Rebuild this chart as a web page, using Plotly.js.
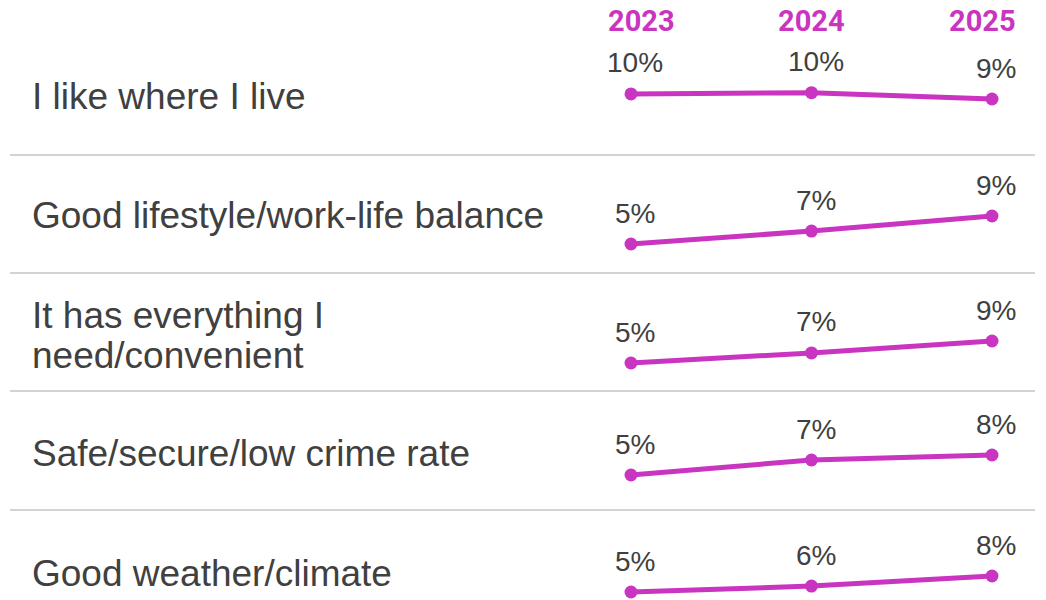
<!DOCTYPE html>
<html>
<head>
<meta charset="utf-8">
<script src="https://cdn.plot.ly/plotly-3.0.1.min.js"></script>
<style>
  html, body { margin: 0; padding: 0; background: #ffffff; }
  #chart { width: 1046px; height: 600px; }
</style>
</head>
<body>
<div id="chart"></div>
<script>
// ---- data ----
const years = [2023, 2024, 2025];
const categories = [
  "I like where I live",
  "Good lifestyle/work-life balance",
  "It has everything I\nneed/convenient",
  "Safe/secure/low crime rate",
  "Good weather/climate"
];
const likeWhereILive   = [10.0, 10.2, 9.2];
const goodLifestyle    = [5.2, 7.0, 9.1];
const hasEverything    = [5.3, 6.9, 8.8];
const safeSecure       = [5.2, 7.3, 8.0];
const goodWeather      = [5.2, 6.2, 7.9];
const seriesValues = [likeWhereILive, goodLifestyle, hasEverything, safeSecure, goodWeather];

// ---- layout geometry (pixels) ----
const W = 1046, H = 600;
const MAGENTA = "#C935C0";
const TEXT = "#404040";
const rowPlotPx = [[92.7, 99], [216, 244], [341, 363], [455, 475], [576, 592]]; // [top, bottom] of data span in each mini plot
const PADPX = 7; // extra room so lines aren't clipped
const rowLabelPx = [97, 215, [315, 355], 453, 573];
const separatorsPx = [155, 273, 391, 510];
const fy = px => 1 - px / H;
const fx = px => px / W;

const traces = [];
const layout = {
  width: W, height: H,
  margin: {l: 0, r: 0, t: 0, b: 0},
  paper_bgcolor: "#ffffff",
  plot_bgcolor: "rgba(0,0,0,0)",
  showlegend: false,
  font: {family: "Liberation Sans, Arial, sans-serif", color: TEXT},
  xaxis: {
    domain: [fx(631 - 20), fx(992 + 20)],
    range: [years[0] - 20 * 2 / 361, years[years.length - 1] + 20 * 2 / 361],
    visible: false, fixedrange: true
  },
  annotations: [],
  shapes: []
};

seriesValues.forEach((vals, i) => {
  const ax = i === 0 ? "y" : "y" + (i + 1);
  const axKey = i === 0 ? "yaxis" : "yaxis" + (i + 1);
  const lo = Math.min(...vals), hi = Math.max(...vals);
  const top = rowPlotPx[i][0], bot = rowPlotPx[i][1];
  const per = (hi - lo) / (bot - top);
  const topPx = Math.max(0, top - PADPX), botPx = Math.min(H, bot + PADPX);
  layout[axKey] = {
    domain: [fy(botPx), fy(topPx)],
    range: [lo - (botPx - bot) * per, hi + (top - topPx) * per],
    visible: false, fixedrange: true
  };
  traces.push({
    type: "scatter",
    mode: "lines+markers",
    x: years, y: vals,
    xaxis: "x", yaxis: ax,
    cliponaxis: false,
    line: {color: MAGENTA, width: 5},
    marker: {color: MAGENTA, size: 13},
    hoverinfo: "skip"
  });
  vals.forEach((v, j) => {
    layout.annotations.push({
      xref: "x", yref: ax,
      x: years[j], y: v,
      text: Math.round(v) + "%",
      showarrow: false,
      xanchor: "center", yanchor: "middle",
      xshift: 4, yshift: 31,
      font: {family: "Liberation Sans, Arial, sans-serif", size: 28, color: TEXT}
    });
  });
  // category label
  const lines = categories[i].split("\n");
  const ys = Array.isArray(rowLabelPx[i]) ? rowLabelPx[i] : [rowLabelPx[i]];
  lines.forEach((ln, k) => {
    layout.annotations.push({
      xref: "paper", yref: "paper",
      x: fx(30), y: fy(ys[k]),
      text: ln,
      showarrow: false,
      xanchor: "left", yanchor: "middle",
      font: {family: "Liberation Sans, Arial, sans-serif", size: 37, color: TEXT}
    });
  });
});

// year headers
const headerShift = [10, 0, -10];
years.forEach((yr, j) => {
  layout.annotations.push({
    xref: "x", yref: "paper",
    x: yr, y: fy(21),
    text: "<b>" + yr + "</b>",
    showarrow: false,
    xanchor: "center", yanchor: "middle",
    xshift: headerShift[j],
    font: {family: "Roboto, Liberation Sans, sans-serif", size: 29, color: MAGENTA}
  });
});

// separators
separatorsPx.forEach(py => {
  layout.shapes.push({
    type: "line", xref: "paper", yref: "paper",
    x0: fx(10), x1: fx(1035), y0: fy(py), y1: fy(py),
    line: {color: "#d3d3d3", width: 2}
  });
});

Plotly.newPlot("chart", traces, layout, {displayModeBar: false, staticPlot: true});
</script>
</body>
</html>
